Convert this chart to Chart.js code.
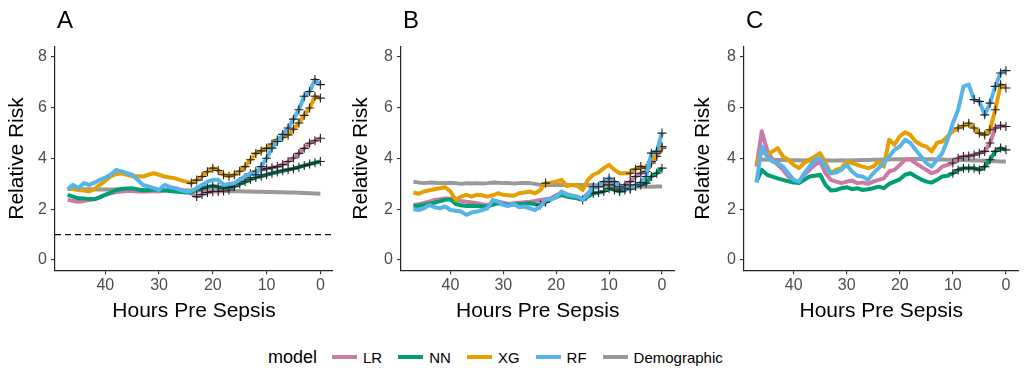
<!DOCTYPE html>
<html>
<head>
<meta charset="utf-8">
<script src="https://cdn.jsdelivr.net/npm/chart.js@4/dist/chart.umd.min.js"></script>
<style>
  body { margin: 0; width: 1024px; height: 370px; background: #fff; position: relative; overflow: hidden;
         font-family: "Liberation Sans", Arial, sans-serif; }
  canvas { position: absolute; top: 0; }
  #legend { position: absolute; left: 268px; top: 346px; height: 22px; display: flex; align-items: center; }
  #legend .ttl { font-size: 18px; color: #000; margin-right: 15px; }
  #legend .sw { width: 25px; height: 4px; margin-right: 6px; }
  #legend .lb { font-size: 15px; color: #000; margin-right: 16px; }
</style>
</head>
<body>
<canvas id="pA" width="340" height="335" style="left:0px"></canvas>
<canvas id="pB" width="340" height="335" style="left:340px"></canvas>
<canvas id="pC" width="344" height="335" style="left:680px"></canvas>
<div id="legend"></div>
<script>
// hours before sepsis onset, left to right
const hours = [47,46,45,44,43,42,41,40,39,38,37,36,35,34,33,32,31,30,29,28,27,26,25,24,
               23,22,21,20,19,18,17,16,15,14,13,12,11,10,9,8,7,6,5,4,3,2,1,0];
const models = ['LR', 'NN', 'XG', 'RF', 'Demographic'];
const colors = ['#CC79A7', '#009E73', '#E69F00', '#56B4E9', '#999999'];
const xTicks = [0, 10, 20, 30, 40];
const yTicks = [0, 2, 4, 6, 8];

// panel A
const aLR = [2.37,2.33,2.30,2.33,2.36,2.39,2.48,2.57,2.63,2.68, 2.70,2.72,2.72,2.70,2.70,2.70,2.72,2.70,2.74,2.78,
             2.83,2.76,2.70,2.62,2.50,2.58,2.66,2.70,2.70,2.72, 2.76,2.90,3.09,3.25,3.40,3.50,3.55,3.60,3.64,3.68,
             3.76,3.88,4.02,4.20,4.40,4.60,4.70,4.80];
const aNN = [2.57,2.50,2.43,2.42,2.40,2.40,2.47,2.57,2.66,2.76, 2.80,2.82,2.83,2.78,2.74,2.76,2.78,2.76,2.74,2.72,
             2.70,2.68,2.66,2.68,2.76,2.82,2.88,2.92,2.88,2.83, 2.86,2.90,3.00,3.09,3.18,3.25,3.30,3.36,3.42,3.47,
             3.52,3.56,3.60,3.66,3.72,3.78,3.83,3.88];
const aXG = [2.83,2.80,2.76,2.74,2.70,2.80,2.96,3.12,3.30,3.38, 3.42,3.36,3.30,3.30,3.29,3.36,3.42,3.36,3.29,3.25,
             3.22,3.15,3.09,3.03,3.15,3.29,3.48,3.62,3.53,3.36, 3.30,3.36,3.50,3.68,3.95,4.20,4.30,4.40,4.57,4.74,
             4.84,4.93,5.15,5.40,5.70,5.99,6.45,6.38];
const aRF = [2.79,2.96,2.83,3.03,2.96,3.05,3.16,3.25,3.36,3.55, 3.49,3.42,3.36,3.16,2.96,2.90,2.83,2.76,2.96,2.88,
             2.83,2.76,2.70,2.72,2.83,2.96,3.09,3.16,3.16,2.96, 3.00,3.03,3.16,3.30,3.42,3.36,3.68,4.01,4.41,4.67,
             4.95,5.20,5.55,5.92,6.45,6.64,7.11,6.91];
const aDemo = [2.80,2.80,2.79,2.79,2.79,2.78,2.78,2.78,2.78,2.78, 2.78,2.78,2.77,2.77,2.77,2.77,2.76,2.76,2.76,2.76,
               2.75,2.75,2.75,2.74,2.74,2.74,2.73,2.73,2.72,2.72, 2.72,2.71,2.71,2.70,2.70,2.69,2.69,2.68,2.68,2.67,
               2.67,2.66,2.66,2.65,2.64,2.63,2.62,2.61];
const aSigLR = [23,22,21,20,19,18,17,16,15,14,13,12,11,10,9,8,7,6,5,4,3,2,1,0];
const aSigNN = [23,22,21,20,19,18,17,16,15,14,13,12,11,10,9,8,7,6,5,4,3,2,1,0];
const aSigXG = [24,23,22,21,20,19,18,17,16,15,14,13,12,11,10,9,8,7,6,5,4,3,2,1,0];
const aSigRF = [12,11,10,9,8,7,6,5,4,3,2,1,0];
const aRefLine = 1;

// panel B
const bLR = [2.17,2.20,2.25,2.30,2.37,2.40,2.43,2.41,2.37,2.33, 2.30,2.27,2.24,2.20,2.17,2.24,2.30,2.26,2.21,2.24,
             2.26,2.28,2.30,2.33,2.37,2.40,2.43,2.55,2.66,2.60, 2.53,2.48,2.43,2.63,2.83,2.90,2.96,3.09,2.96,2.83,
             2.96,3.09,3.29,3.42,3.49,3.82,4.08,4.41];
const bNN = [2.11,2.14,2.17,2.22,2.26,2.32,2.37,2.39,2.21,2.16, 2.13,2.14,2.13,2.12,2.11,2.18,2.24,2.20,2.17,2.19,
             2.21,2.22,2.24,2.20,2.17,2.28,2.39,2.48,2.57,2.50, 2.46,2.43,2.37,2.50,2.63,2.66,2.70,2.83,2.76,2.70,
             2.76,2.83,2.90,2.96,3.03,3.29,3.42,3.62];
const bXG = [2.66,2.61,2.70,2.75,2.79,2.83,2.87,2.70,2.37,2.50, 2.57,2.50,2.57,2.55,2.50,2.55,2.63,2.57,2.55,2.53,
             2.63,2.66,2.70,2.63,2.76,3.03,3.05,3.09,3.16,2.92, 2.96,2.92,2.76,3.16,3.36,3.45,3.62,3.75,3.55,3.42,
             3.42,3.42,3.58,3.68,3.62,3.88,4.21,4.47];
const bRF = [2.00,1.97,2.04,2.17,2.08,2.04,2.11,1.97,1.94,1.91, 1.78,1.87,1.91,1.97,2.04,2.37,2.30,2.17,2.13,2.21,
             2.08,2.11,2.04,1.97,2.11,2.37,2.39,2.47,2.70,2.57, 2.53,2.50,2.37,2.60,2.89,2.89,3.09,3.22,3.09,2.89,
             2.83,2.79,2.96,3.05,3.29,4.21,4.28,5.00];
const bDemo = [3.09,3.05,3.03,3.05,3.04,3.03,3.03,3.04,3.03,3.00, 3.03,3.02,3.03,3.02,3.03,3.05,3.04,3.03,3.03,3.02,
               3.03,3.03,3.03,3.00,2.96,2.96,2.97,2.96,2.96,2.95, 2.96,2.96,2.96,2.95,2.96,2.95,2.96,2.96,2.95,2.93,
               2.92,2.90,2.90,2.90,2.89,2.89,2.90,2.90];
const bSigLR = [13,12,11,10,9,8,7,6,5,4,3,2,1,0];
const bSigNN = [23,22,15,13,12,11,10,9,8,7,6,5,4,3,2,1,0];
const bSigXG = [22,6,5,4,3,2,1,0];
const bSigRF = [13,12,11,10,9,8,7,6,5,4,3,2,1,0];

// panel C
const cLR = [3.68,5.07,4.34,3.95,3.75,3.55,3.29,3.09,3.09,3.36, 3.55,3.75,3.88,3.42,3.16,3.09,3.03,3.09,3.13,3.03,
             3.05,3.00,3.09,3.16,3.22,3.49,3.55,3.75,3.95,3.97, 3.82,3.68,3.55,3.42,3.49,3.68,3.75,3.82,4.01,4.08,
             4.10,4.14,4.21,4.28,4.61,5.20,5.29,5.26];
const cNN = [3.09,3.55,3.36,3.29,3.22,3.16,3.10,3.05,3.03,3.16, 3.29,3.32,3.36,2.96,2.74,2.76,2.83,2.87,2.79,2.83,
             2.76,2.79,2.83,2.89,2.83,3.00,3.09,3.18,3.36,3.42, 3.29,3.18,3.09,3.05,3.16,3.29,3.32,3.42,3.55,3.62,
             3.62,3.62,3.55,3.68,3.95,4.28,4.41,4.34];
const cXG = [3.82,4.28,4.14,4.28,4.41,4.08,3.95,3.75,3.62,3.82, 3.95,4.08,4.21,3.82,3.42,3.55,3.62,3.88,3.82,3.75,
             3.68,3.62,3.68,3.88,3.68,4.74,4.54,4.87,5.03,4.93, 4.67,4.54,4.47,4.28,4.61,4.67,4.87,5.07,5.20,5.29,
             5.39,5.20,5.00,4.93,5.13,5.92,6.91,6.78];
const cRF = [3.05,4.47,4.08,3.88,3.82,3.68,3.42,3.16,3.09,3.42, 3.68,3.95,4.01,3.68,3.42,3.45,3.55,3.75,3.49,3.32,
             3.29,3.16,3.42,3.62,3.82,4.08,4.34,4.47,4.74,4.61, 4.34,4.08,3.82,3.68,3.95,4.21,4.74,5.39,5.92,6.84,
             6.91,6.32,6.25,5.72,6.18,6.84,7.37,7.46];
const cDemo = [3.97,3.96,3.95,3.95,3.94,3.94,3.93,3.93,3.93,3.92, 3.93,3.92,3.92,3.93,3.92,3.92,3.93,3.92,3.93,3.93,
               3.94,3.94,3.95,3.95,3.96,3.96,3.97,3.97,3.97,3.98, 3.98,3.98,3.97,3.97,3.96,3.96,3.95,3.95,3.94,3.94,
               3.93,3.92,3.92,3.91,3.90,3.89,3.88,3.88];
const cSigLR = [10,9,8,7,6,5,4,3,2,1,0];
const cSigNN = [10,9,8,7,6,5,4,3,2,1,0];
const cSigXG = [9,8,7,6,5,4,3,2,1,0];
const cSigRF = [6,5,4,3,2,1,0];

// which series sits on top (first = top)
const drawOrder = ['RF', 'XG', 'NN', 'LR', 'Demographic'];

const panels = [
  { canvas: 'pA', letter: 'A', plotLeft: 55, plotRight: 333, yTitleX: 17,
    series: [aLR, aNN, aXG, aRF, aDemo], sig: [aSigLR, aSigNN, aSigXG, aSigRF, []], refLine: aRefLine },
  { canvas: 'pB', letter: 'B', plotLeft: 61, plotRight: 338, yTitleX: 21.5,
    series: [bLR, bNN, bXG, bRF, bDemo], sig: [bSigLR, bSigNN, bSigXG, bSigRF, []], refLine: null },
  { canvas: 'pC', letter: 'C', plotLeft: 64, plotRight: 343, yTitleX: 23,
    series: [cLR, cNN, cXG, cRF, cDemo], sig: [cSigLR, cSigNN, cSigXG, cSigRF, []], refLine: null }
];

const FONT = '"Liberation Sans", Arial, Helvetica, sans-serif';
Chart.defaults.font.family = FONT;

const CANVAS_H = 335, PLOT_TOP = 46.8, PLOT_BOTTOM = 270.2;

const panelLetter = {
  id: 'panelLetter',
  afterDraw(chart, args, opts) {
    const ctx = chart.ctx;
    ctx.save();
    ctx.font = '24px ' + FONT;
    ctx.fillStyle = '#000';
    ctx.textBaseline = 'middle';
    ctx.fillText(opts.text, chart.chartArea.left + 2, 21);
    ctx.restore();
  }
};

const refLine = {
  id: 'refLine',
  beforeDatasetsDraw(chart, args, opts) {
    if (opts.value == null) return;
    const {ctx, chartArea} = chart;
    const y = chart.scales.y.getPixelForValue(opts.value);
    ctx.save();
    ctx.strokeStyle = '#111';
    ctx.lineWidth = 1.3;
    ctx.setLineDash([6, 4]);
    ctx.beginPath();
    ctx.moveTo(chartArea.left, y);
    ctx.lineTo(chartArea.right, y);
    ctx.stroke();
    ctx.restore();
  }
};

panels.forEach(p => {
  const el = document.getElementById(p.canvas);
  const datasets = models.map((m, i) => ({
    label: m,
    data: hours.map((h, j) => ({ x: h, y: p.series[i][j] })),
    borderColor: colors[i],
    backgroundColor: colors[i],
    borderWidth: 4,
    borderJoinStyle: 'round',
    tension: 0,
    pointStyle: 'cross',
    pointRadius: ctx => p.sig[i].includes(hours[ctx.dataIndex]) ? 4.5 : 0,
    pointBorderColor: '#222',
    pointBorderWidth: 1.1,
    order: drawOrder.indexOf(m)
  }));

  new Chart(el, {
    type: 'line',
    data: { datasets },
    options: {
      responsive: false,
      animation: false,
      events: [],
      layout: { padding: { top: PLOT_TOP, right: el.width - p.plotRight, left: 0, bottom: 0 } },
      plugins: {
        legend: { display: false },
        tooltip: { enabled: false },
        panelLetter: { text: p.letter },
        refLine: { value: p.refLine }
      },
      scales: {
        x: {
          type: 'linear',
          reverse: true,
          min: -2.35,
          max: 49.35,
          afterBuildTicks: s => { s.ticks = xTicks.map(v => ({ value: v })); },
          afterFit: s => { s.height = CANVAS_H - PLOT_BOTTOM; },
          grid: { drawOnChartArea: false, tickLength: 4, tickColor: '#333', lineWidth: 1.1 },
          border: { color: '#222', width: 1.2 },
          ticks: { color: '#4d4d4d', font: { size: 16 }, padding: 2, maxRotation: 0, autoSkip: false },
          title: { display: true, text: 'Hours Pre Sepsis', color: '#000', font: { size: 21 },
                   padding: { top: 0, bottom: 11.4 } }
        },
        y: {
          min: -0.4,
          max: 8.4,
          afterBuildTicks: s => { s.ticks = yTicks.map(v => ({ value: v })); },
          afterFit: s => { s.width = p.plotLeft; },
          grid: { drawOnChartArea: false, tickLength: 4, tickColor: '#333', lineWidth: 1.1 },
          border: { color: '#222', width: 1.2 },
          ticks: { color: '#4d4d4d', font: { size: 16 }, padding: 4 },
          title: { display: true, text: 'Relative Risk', color: '#000', font: { size: 21 },
                   padding: { top: p.yTitleX - 12.6, bottom: 0 } }
        }
      }
    },
    plugins: [panelLetter, refLine]
  });
});

// legend
const legend = document.getElementById('legend');
const ttl = document.createElement('span');
ttl.className = 'ttl';
ttl.textContent = 'model';
legend.appendChild(ttl);
models.forEach((m, i) => {
  const sw = document.createElement('span');
  sw.className = 'sw';
  sw.style.background = colors[i];
  const lb = document.createElement('span');
  lb.className = 'lb';
  lb.textContent = m;
  legend.appendChild(sw);
  legend.appendChild(lb);
});
</script>
</body>
</html>
